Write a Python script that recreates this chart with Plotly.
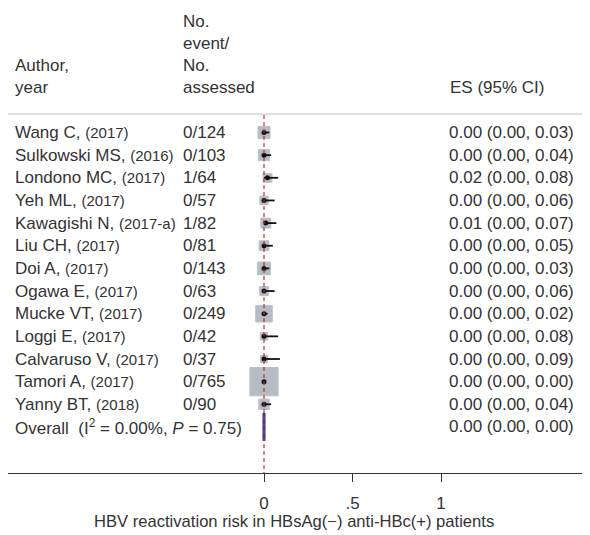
import plotly.graph_objects as go
import math

# ---- data ----
authors = ["Wang C,", "Sulkowski MS,", "Londono MC,", "Yeh ML,", "Kawagishi N,", "Liu CH,",
           "Doi A,", "Ogawa E,", "Mucke VT,", "Loggi E,", "Calvaruso V,", "Tamori A,", "Yanny BT,"]
years = ["(2017)", "(2016)", "(2017)", "(2017)", "(2017-a)", "(2017)",
         "(2017)", "(2017)", "(2017)", "(2017)", "(2017)", "(2017)", "(2018)"]
events = [0, 0, 1, 0, 1, 0, 0, 0, 0, 0, 0, 0, 0]
assessed = [124, 103, 64, 57, 82, 81, 143, 63, 249, 42, 37, 765, 90]
es = [0.00, 0.00, 0.02, 0.00, 0.01, 0.00, 0.00, 0.00, 0.00, 0.00, 0.00, 0.00, 0.00]
ci_low = [0.00] * 13
ci_high = [0.03, 0.04, 0.08, 0.06, 0.07, 0.05, 0.03, 0.06, 0.02, 0.08, 0.09, 0.00, 0.04]
overall_es, overall_low, overall_high = 0.00, 0.00, 0.00
overall_label = "Overall  (I<sup>2</sup> = 0.00%, <i>P</i> = 0.75)"
tick_vals = [0, 0.5, 1]
tick_text = ["0", ".5", "1"]
x_title = "HBV reactivation risk in HBsAg(\u2212) anti-HBc(+) patients"

# ---- layout helpers (positions given in window pixels; page body adds 8px offset) ----
OFF = 8
W, H = 590 - OFF, 535 - OFF
PLOT_BOTTOM = 473                 # window pixel of the x axis line
MB = 535 - PLOT_BOTTOM
PX0, PX_PER = 264, 177            # window pixel of x=0, pixels per unit
ROW0, ROW_H = 132.5, 22.65        # window pixel of first row, row height

def px_to_paper(p):
    return (p - OFF) / W

def py_to_row(p):
    return (p - ROW0) / ROW_H

FONT = "Arial, Liberation Sans, Helvetica, sans-serif"
TXT = "#333333"
MAIN = 17
SMALL = 15

rows = list(range(len(authors)))
overall_row = len(authors)
weights = [n / sum(assessed) for n in assessed]
sizes = [43 * math.sqrt(w) + 1 for w in weights]

fig = go.Figure()

# weight squares
fig.add_trace(go.Scatter(
    x=es, y=rows, mode="markers",
    marker=dict(symbol="square", size=sizes, color="#b6bcc4", opacity=1,
                line=dict(color="#bcc1c8", width=1)),
    hoverinfo="skip", showlegend=False))

# CI lines + point estimates
fig.add_trace(go.Scatter(
    x=es, y=rows, mode="markers",
    marker=dict(symbol="circle", size=5, color="#111111", opacity=1),
    error_x=dict(type="data", symmetric=False,
                 array=[h - e for h, e in zip(ci_high, es)],
                 arrayminus=[e - l for e, l in zip(es, ci_low)],
                 color="#111111", thickness=1.8, width=0),
    hoverinfo="skip", showlegend=False))

# overall (degenerate diamond)
fig.add_trace(go.Scatter(
    x=[overall_es], y=[overall_row], mode="markers",
    marker=dict(symbol="line-ns", size=20, opacity=1,
                line=dict(color="#2d3690", width=3)),
    hoverinfo="skip", showlegend=False))

annotations = []

def add_text(xp, y, text, size=MAIN, xanchor="left"):
    annotations.append(dict(x=px_to_paper(xp), xref="paper", y=y, yref="y",
                            text=text, showarrow=False, xanchor=xanchor, yanchor="middle",
                            font=dict(family=FONT, size=size, color=TXT)))

AX, FX, EX = 13, 181, 447

# headers
add_text(AX, py_to_row(65), "Author,")
add_text(AX, py_to_row(87), "year")
add_text(FX, py_to_row(21), "No.")
add_text(FX, py_to_row(43), "event/")
add_text(FX, py_to_row(65), "No.")
add_text(FX, py_to_row(87), "assessed")
add_text(EX + 1, py_to_row(87), "ES (95% CI)")

for i in rows:
    add_text(AX, i, f"{authors[i]} <span style='font-size:{SMALL}px'>{years[i]}</span>")
    add_text(FX, i, f"{events[i]}/{assessed[i]}")
    add_text(EX, i, f"{es[i]:.2f} ({ci_low[i]:.2f}, {ci_high[i]:.2f})")

add_text(AX, overall_row, overall_label)
add_text(EX, overall_row, f"{overall_es:.2f} ({overall_low:.2f}, {overall_high:.2f})")

plot_h = PLOT_BOTTOM - OFF
# x-axis title
annotations.append(dict(x=px_to_paper(294), xref="paper", y=-(521 - PLOT_BOTTOM) / plot_h, yref="paper",
                        text=x_title, showarrow=False, xanchor="center", yanchor="middle",
                        font=dict(family=FONT, size=16.6, color=TXT)))

shapes = [
    # header separator
    dict(type="line", xref="paper", yref="y", x0=0, x1=1,
         y0=py_to_row(114), y1=py_to_row(114), line=dict(color="#d4d4d4", width=1.5)),
    # null line
    dict(type="line", xref="x", yref="y", x0=0, x1=0,
         y0=py_to_row(115), y1=py_to_row(PLOT_BOTTOM),
         line=dict(color="#b3333a", width=1.2, dash="4px,3px")),
]

fig.update_layout(
    width=W, height=H,
    margin=dict(l=0, r=0, t=0, b=MB, pad=0),
    paper_bgcolor="white", plot_bgcolor="white",
    showlegend=False,
    annotations=annotations, shapes=shapes,
    xaxis=dict(range=[(OFF - PX0) / PX_PER, (590 - PX0) / PX_PER],
               tickvals=tick_vals, ticktext=tick_text,
               ticks="outside", ticklen=8, tickwidth=1.2, tickcolor="#333333",
               ticklabelstandoff=6,
               showline=True, linecolor="#333333", linewidth=1.3,
               showgrid=False, zeroline=False,
               tickfont=dict(family=FONT, size=MAIN, color=TXT)),
    yaxis=dict(range=[py_to_row(PLOT_BOTTOM), py_to_row(OFF)],
               showticklabels=False, showgrid=False, zeroline=False, showline=False,
               ticks=""),
)

fig.write_html("out.html")
